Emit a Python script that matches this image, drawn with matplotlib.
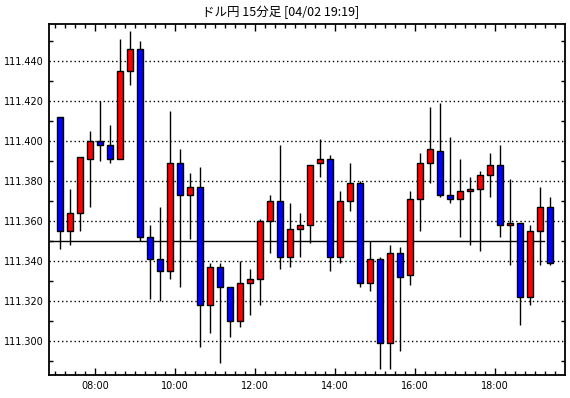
import matplotlib
matplotlib.use("Agg")
import matplotlib.pyplot as plt
from matplotlib.ticker import FixedLocator, MultipleLocator
import numpy as np

title = "ドル円 15分足 [04/02 19:19]"

opens = [111.412, 111.355, 111.364, 111.391, 111.400, 111.398, 111.391, 111.435, 111.446, 111.352,
         111.341, 111.335, 111.389, 111.373, 111.377, 111.318, 111.337, 111.327, 111.310, 111.329,
         111.331, 111.360, 111.370, 111.342, 111.356, 111.358, 111.389, 111.391, 111.342, 111.370,
         111.379, 111.329, 111.341, 111.299, 111.344, 111.333, 111.371, 111.389, 111.395, 111.373,
         111.371, 111.375, 111.376, 111.383, 111.388, 111.358, 111.359, 111.322, 111.355, 111.367]
highs = [111.412, 111.376, 111.392, 111.405, 111.420, 111.408, 111.451, 111.455, 111.450, 111.358,
         111.367, 111.415, 111.396, 111.384, 111.387, 111.339, 111.339, 111.327, 111.340, 111.336,
         111.361, 111.373, 111.398, 111.369, 111.364, 111.388, 111.401, 111.393, 111.375, 111.389,
         111.380, 111.350, 111.342, 111.348, 111.347, 111.375, 111.394, 111.417, 111.419, 111.402,
         111.391, 111.382, 111.385, 111.394, 111.398, 111.381, 111.359, 111.358, 111.377, 111.372]
lows = [111.346, 111.348, 111.355, 111.367, 111.390, 111.389, 111.391, 111.428, 111.350, 111.321,
        111.320, 111.331, 111.327, 111.351, 111.297, 111.304, 111.289, 111.302, 111.307, 111.313,
        111.318, 111.344, 111.336, 111.337, 111.342, 111.349, 111.382, 111.335, 111.339, 111.365,
        111.327, 111.325, 111.286, 111.286, 111.295, 111.328, 111.355, 111.379, 111.372, 111.369,
        111.352, 111.348, 111.345, 111.372, 111.352, 111.338, 111.308, 111.318, 111.338, 111.338]
closes = [111.355, 111.364, 111.392, 111.400, 111.398, 111.391, 111.435, 111.446, 111.352, 111.341,
          111.335, 111.389, 111.373, 111.377, 111.318, 111.337, 111.327, 111.310, 111.329, 111.331,
          111.360, 111.370, 111.342, 111.356, 111.358, 111.388, 111.391, 111.342, 111.370, 111.379,
          111.329, 111.341, 111.299, 111.344, 111.332, 111.371, 111.389, 111.396, 111.373, 111.371,
          111.375, 111.376, 111.383, 111.388, 111.358, 111.359, 111.322, 111.355, 111.367, 111.339]

hour_labels = ["08:00", "10:00", "12:00", "14:00", "16:00", "18:00"]
ref_level = 111.350

ytick_vals = [111.300, 111.320, 111.340, 111.360, 111.380, 111.400, 111.420, 111.440]

fig = plt.figure(figsize=(5.70, 3.98), dpi=100)
ax = fig.add_axes([49.3 / 570, 1 - 375 / 398, (565.3 - 49.3) / 570, (375 - 24.3) / 398])

n = len(opens)
x = np.arange(n)
o = np.array(opens); c = np.array(closes); h = np.array(highs); l = np.array(lows)
up = c >= o
colors = np.where(up, "#ff0000", "#0000ff")

# grid
for yv in ytick_vals:
    ax.axhline(yv, color="black", lw=1, ls=(0, (1, 2)), zorder=1)
ax.plot([-1.1, 48.4], [ref_level, ref_level], color="black", lw=1.0, zorder=1.5)

ax.vlines(x, l, h, color="black", lw=1, zorder=2)
ax.bar(x, np.abs(c - o), bottom=np.minimum(o, c), width=0.62, color=colors,
       edgecolor="black", linewidth=1, zorder=3)

ax.set_xlim(-1.1, 50.5)
ax.set_ylim(111.28315, 111.4585)

major_x = [3.5 + 8 * k for k in range(len(hour_labels))]
ax.xaxis.set_major_locator(FixedLocator(major_x))
ax.set_xticklabels(hour_labels)
ax.xaxis.set_minor_locator(FixedLocator([-0.5 + j for j in range(n + 1)]))
ax.yaxis.set_major_locator(FixedLocator(ytick_vals))
ax.set_yticklabels([f"{v:.3f}" for v in ytick_vals])
ax.yaxis.set_minor_locator(MultipleLocator(0.010))

ax.tick_params(axis="both", which="both", direction="in", top=True, right=True,
               labelsize=7, color="black", width=1)
ax.tick_params(axis="x", which="major", length=5, pad=4)
ax.tick_params(axis="x", which="minor", length=3)
ax.tick_params(axis="y", which="major", length=0, pad=4)
ax.tick_params(axis="y", which="minor", length=3)
for s in ax.spines.values():
    s.set_linewidth(1.3)
    s.set_color("black")

fig.text(281 / 570, 1 - 12 / 398, title, ha="center", va="center", fontsize=9,
         family=["Noto Sans CJK JP", "DejaVu Sans"])

fig.savefig("out.png", dpi=100, facecolor="white")
